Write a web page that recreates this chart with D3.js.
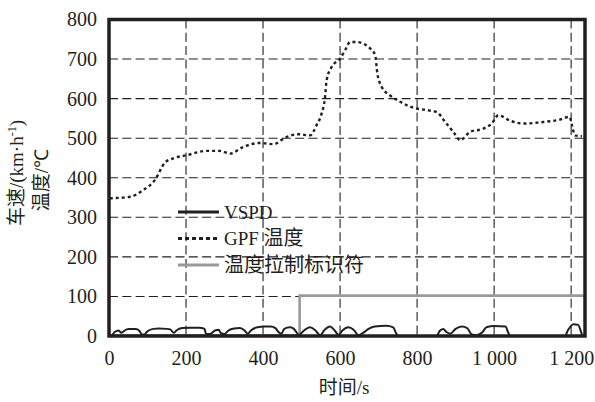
<!DOCTYPE html>
<html><head><meta charset="utf-8">
<script src="https://cdn.jsdelivr.net/npm/d3@7"></script>
<style>
html,body{margin:0;padding:0;background:#fff;}
svg{display:block;}
</style></head>
<body>
<svg id="chart" width="595" height="402"></svg>
<script>
// ---- data ----
const xTicks = [0, 200, 400, 600, 800, 1000, 1200];
const xTickLabels = ["0", "200", "400", "600", "800", "1 000", "1 200"];
const yTicks = [0, 100, 200, 300, 400, 500, 600, 700, 800];
const yTickLabels = ["0", "100", "200", "300", "400", "500", "600", "700", "800"];

const gpfTime = [2, 55, 89, 119, 145, 167, 202, 254, 288, 314, 349, 392, 427, 461, 492, 522, 539, 552, 561, 565, 578, 600, 613, 626, 643, 678, 691, 697, 708, 730, 756, 790, 825, 851, 873, 894, 912, 938, 972, 994, 1011, 1042, 1076, 1128, 1171, 1196, 1202, 1210, 1228];
const gpfTemp = [348, 352, 369, 394, 438, 449, 457, 468, 468, 461, 478, 488, 485, 503, 510, 507, 533, 562, 604, 646, 680, 701, 722, 743, 743, 727, 710, 663, 630, 608, 592, 577, 571, 566, 541, 516, 495, 516, 524, 537, 558, 544, 537, 541, 547, 554, 533, 507, 505];

const vspdTime = [0, 5, 15, 25, 32, 38, 50, 70, 78, 86, 92, 100, 115, 130, 150, 160, 168, 175, 190, 210, 235, 248, 252, 262, 275, 285, 290, 300, 310, 325, 340, 352, 360, 370, 385, 405, 420, 432, 440, 448, 455, 470, 480, 488, 494, 500, 512, 522, 535, 548, 560, 574, 586, 596, 606, 622, 635, 648, 660, 674, 690, 720, 738, 745, 751, 851, 858, 868, 876, 886, 900, 916, 930, 942, 955, 970, 980, 1000, 1030, 1036, 1042, 1184, 1192, 1206, 1218, 1226, 1230, 1236];
const vspdSpeed = [0, 0, 10, 14, 8, 12, 18, 18, 14, 4, 4, 12, 18, 19, 18, 16, 8, 14, 20, 21, 21, 18, 5, 5, 14, 16, 8, 5, 14, 19, 20, 14, 6, 15, 22, 24, 24, 20, 10, 6, 18, 22, 18, 8, 2, 8, 18, 22, 15, 2, 16, 24, 14, 3, 14, 22, 16, 2, 8, 18, 24, 26, 22, 8, 0, 0, 12, 18, 10, 6, 18, 24, 20, 4, 2, 10, 22, 25, 24, 10, 0, 0, 15, 30, 28, 10, 0, 0];

const flagTime = [0, 495, 495, 1236];
const flagValue = [2, 2, 102, 102];

const legendNames = ["VSPD", "GPF 温度", "温度拉制标识符"];
const xTitle = "时间/s";

// ---- layout ----
const plot = {left: 109, top: 19.5, right: 585, bottom: 336};
const ink = "#231f20";
const serif = "'Liberation Serif','Times New Roman',serif";
const cjk = "'Noto Sans CJK SC','Noto Sans',sans-serif";

const svg = d3.select("#chart");
const x = d3.scaleLinear().domain([0, 1236]).range([plot.left, plot.right]);
const y = d3.scaleLinear().domain([0, 800]).range([plot.bottom, plot.top]);

function isCJK(ch){ return /[\u3000-\u9fff\uff00-\uffef\u2103]/.test(ch); }
function addRuns(textSel, str, latinSize, cjkSize){
  const runs = [];
  for (const ch of str){
    const c = isCJK(ch);
    if (runs.length && runs[runs.length-1].c === c) runs[runs.length-1].s += ch;
    else runs.push({c, s: ch});
  }
  runs.forEach(r => {
    textSel.append("tspan")
      .style("font-family", r.c ? cjk : serif)
      .style("font-size", (r.c ? cjkSize : latinSize) + "px")
      .text(r.s);
  });
}

// ---- grid ----
const grid = svg.append("g");
grid.selectAll("line.h").data(yTicks).join("line")
  .attr("x1", plot.left).attr("x2", plot.right)
  .attr("y1", d => y(d)).attr("y2", d => y(d))
  .attr("stroke", ink).attr("stroke-width", 1.1).attr("stroke-dasharray", "9,4.3");
grid.selectAll("line.v").data(xTicks).join("line")
  .attr("x1", d => x(d)).attr("x2", d => x(d))
  .attr("y1", plot.top).attr("y2", plot.bottom)
  .attr("stroke", ink).attr("stroke-width", 1.1).attr("stroke-dasharray", "9,4.3");

// ---- series ----
const gpfData = gpfTime.map((t, i) => [t, gpfTemp[i]]);
const vspdData = vspdTime.map((t, i) => [t, vspdSpeed[i]]);
const flagData = flagTime.map((t, i) => [t, flagValue[i]]);

svg.append("path").datum(flagData)
  .attr("fill", "none").attr("stroke", "#9a9a9a").attr("stroke-width", 2.6)
  .attr("d", d3.line().x(d => x(d[0])).y(d => y(d[1])));

svg.append("path").datum(vspdData)
  .attr("fill", "none").attr("stroke", ink).attr("stroke-width", 2)
  .attr("stroke-linejoin", "round")
  .attr("d", d3.line().curve(d3.curveMonotoneX).x(d => x(d[0])).y(d => y(d[1])));

svg.append("path").datum(gpfData)
  .attr("fill", "none").attr("stroke", ink).attr("stroke-width", 2.4)
  .attr("stroke-dasharray", "3,3")
  .attr("d", d3.line().curve(d3.curveMonotoneX).x(d => x(d[0])).y(d => y(d[1])));

// ---- frame ----
svg.append("rect")
  .attr("x", plot.left).attr("y", plot.top)
  .attr("width", plot.right - plot.left).attr("height", plot.bottom - plot.top)
  .attr("fill", "none").attr("stroke", ink).attr("stroke-width", 3.5);

// ---- axes labels ----
const yAxis = d3.axisLeft(y).tickValues(yTicks).tickSize(0).tickPadding(12)
  .tickFormat((d, i) => yTickLabels[i]);
const gy = svg.append("g").attr("transform", `translate(${plot.left},0)`).call(yAxis)
  .attr("font-family", null).attr("font-size", null);
gy.select(".domain").remove();
gy.selectAll("text").style("font-family", serif).style("font-size", "20px").attr("fill", ink);

const xAxis = d3.axisBottom(x).tickValues(xTicks).tickSize(0).tickPadding(15)
  .tickFormat((d, i) => xTickLabels[i]);
const gx = svg.append("g").attr("transform", `translate(0,${plot.bottom})`).call(xAxis)
  .attr("font-family", null).attr("font-size", null);
gx.select(".domain").remove();
gx.selectAll("text").style("font-family", serif).style("font-size", "20px").attr("fill", ink);

// x title
const xt = svg.append("text").attr("x", (plot.left + plot.right) / 2 - 3).attr("y", 394)
  .attr("text-anchor", "middle").attr("fill", ink);
addRuns(xt, xTitle, 19, 19);

// y title (two lines)
const yt1 = svg.append("text").attr("transform", "translate(23,173) rotate(-90)")
  .attr("text-anchor", "middle").attr("fill", ink);
yt1.append("tspan").style("font-family", cjk).style("font-size", "19px").text("车速");
yt1.append("tspan").style("font-family", serif).style("font-size", "19px").text("/(km·h");
yt1.append("tspan").style("font-family", serif).style("font-size", "12px").attr("dy", -7).text("-1");
yt1.append("tspan").style("font-family", serif).style("font-size", "19px").attr("dy", 7).text(")");

const yt2 = svg.append("text").attr("transform", "translate(48,180) rotate(-90)")
  .attr("text-anchor", "middle").attr("fill", ink);
yt2.append("tspan").style("font-family", cjk).style("font-size", "19px").text("温度");
yt2.append("tspan").style("font-family", serif).style("font-size", "19px").text("/℃");

// ---- legend ----
const legendStyles = [
  {stroke: ink, width: 3, dash: null},
  {stroke: ink, width: 3, dash: "4,3"},
  {stroke: "#9a9a9a", width: 3.2, dash: null}
];
const legendY = [212, 238.5, 265];
const lg = svg.append("g");
legendNames.forEach((name, i) => {
  lg.append("line")
    .attr("x1", 178).attr("x2", 219)
    .attr("y1", legendY[i]).attr("y2", legendY[i])
    .attr("stroke", legendStyles[i].stroke).attr("stroke-width", legendStyles[i].width)
    .attr("stroke-dasharray", legendStyles[i].dash);
  const t = lg.append("text").attr("x", 224).attr("y", legendY[i] + 6.5).attr("fill", ink);
  addRuns(t, name, 19, 20);
});
</script>
</body></html>
